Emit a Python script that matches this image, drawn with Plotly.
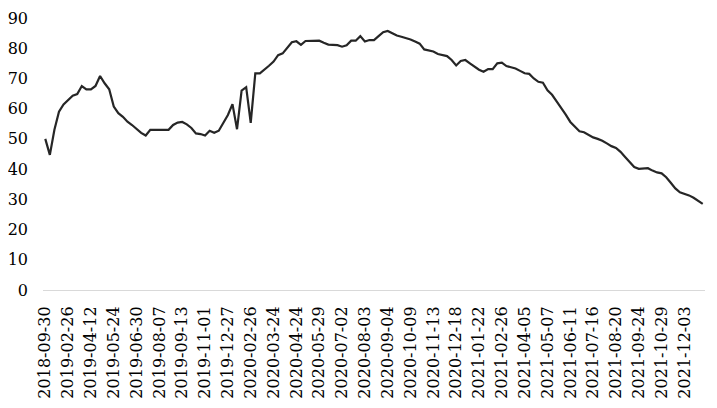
import plotly.graph_objects as go

values = [
    50.0, 44.7, 53.0, 59.0, 61.4, 62.9, 64.3, 64.8, 67.5, 66.4,
    66.4, 67.5, 70.8, 68.4, 66.4, 60.7, 58.5, 57.3, 55.7, 54.6,
    53.2, 52.0, 51.1, 53.0, 53.0, 53.0, 53.0, 53.0, 54.6, 55.4,
    55.6, 54.8, 53.6, 51.8, 51.6, 51.1, 52.7, 52.0, 52.7, 55.1,
    57.9, 61.5, 53.2, 66.0, 67.1, 55.3, 71.7, 71.7, 72.8, 74.2,
    75.6, 77.7, 78.3, 80.3, 82.0, 82.3, 81.1, 82.4, 82.5, 82.6,
    82.5, 81.8, 81.2, 81.1, 81.0, 80.5, 81.0, 82.5, 82.5, 84.0,
    82.2, 82.7, 82.7, 84.0, 85.3, 85.7, 84.9, 84.2, 83.8, 83.4,
    82.9, 82.2, 81.5, 79.6, 79.2, 78.9, 78.1, 77.8, 77.4, 76.1,
    74.3, 75.8, 76.1, 75.0, 74.0, 72.9, 72.2, 73.1, 73.1, 75.0,
    75.2, 74.1, 73.7, 73.3, 72.5, 71.7, 71.5, 70.0, 68.9, 68.6,
    66.1, 64.6, 62.4, 60.4, 58.0, 55.6, 54.0, 52.5, 52.2, 51.4,
    50.5, 50.0, 49.4, 48.5, 47.6, 47.0, 45.7, 44.0, 42.5, 40.7,
    40.1, 40.1, 40.3, 39.5, 38.9, 38.6, 37.3, 35.5, 33.6, 32.3,
    31.8, 31.3, 30.5, 29.4, 28.5,
]

# Date labels shown on the category axis (every 5th observation)
tick_labels = [
    "2018-09-30", "2019-02-26", "2019-04-12", "2019-05-24", "2019-06-30",
    "2019-08-07", "2019-09-13", "2019-11-01", "2019-12-27", "2020-02-26",
    "2020-03-24", "2020-04-24", "2020-05-29", "2020-07-02", "2020-08-03",
    "2020-09-04", "2020-10-09", "2020-11-13", "2020-12-18", "2021-01-22",
    "2021-02-26", "2021-04-05", "2021-05-07", "2021-06-11", "2021-07-16",
    "2021-08-20", "2021-09-24", "2021-10-29", "2021-12-03",
]
label_step = 5

x_index = list(range(len(values)))
tick_positions = [i * label_step for i in range(len(tick_labels))]

fig = go.Figure()
fig.add_trace(go.Scatter(
    x=x_index, y=values, mode="lines",
    line=dict(color="#262626", width=2.2),
    showlegend=False, hoverinfo="y",
))

font = dict(family="DejaVu Serif", size=16, color="#000000")

fig.update_layout(
    width=717, height=408,
    margin=dict(l=35, r=20, t=10, b=126, pad=0),
    paper_bgcolor="white", plot_bgcolor="white",
    font=font,
    xaxis=dict(
        range=[-0.5, len(values) - 0.5],
        tickmode="array", tickvals=tick_positions, ticktext=tick_labels,
        tickangle=-90, showgrid=False, zeroline=False,
        showline=True, linecolor="#d9d9d9", linewidth=1,
        ticks="", tickfont=font, automargin=False,
        ticklabelstandoff=9,
    ),
    yaxis=dict(
        range=[0, 90], tickmode="array", tickvals=list(range(0, 91, 10)),
        showgrid=False, zeroline=False, showline=False,
        ticks="", tickfont=font, automargin=False,
        ticklabelstandoff=14,
    ),
)

fig.write_html("out.html")
